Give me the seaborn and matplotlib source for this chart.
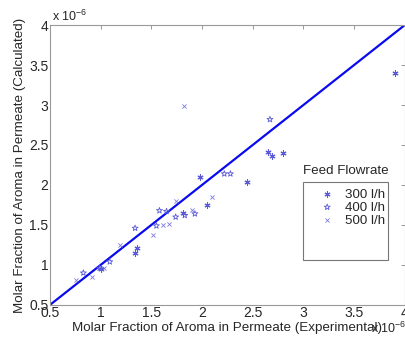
import matplotlib
matplotlib.use("Agg")
import matplotlib.pyplot as plt
from matplotlib.patches import Rectangle
from matplotlib.ticker import FuncFormatter
import seaborn as sns
import pandas as pd

# values in units of 1e-6
exp_300 = [1.00, 1.34, 1.36, 1.81, 1.98, 2.05, 2.44, 2.65, 2.69, 2.80, 3.90]
calc_300 = [0.95, 1.15, 1.21, 1.65, 2.10, 1.75, 2.04, 2.41, 2.36, 2.40, 3.40]
exp_400 = [0.83, 0.99, 1.09, 1.34, 1.55, 1.58, 1.65, 1.74, 1.83, 1.93, 2.22, 2.28, 2.67]
calc_400 = [0.90, 0.96, 1.04, 1.46, 1.49, 1.68, 1.67, 1.60, 1.62, 1.64, 2.14, 2.14, 2.82]
exp_500 = [0.76, 0.91, 1.03, 1.19, 1.52, 1.62, 1.67, 1.74, 1.82, 1.90, 2.10]
calc_500 = [0.81, 0.85, 0.96, 1.25, 1.38, 1.50, 1.51, 1.80, 2.99, 1.69, 1.85]
parity = [0.5, 4.0]
ticks = [0.5, 1, 1.5, 2, 2.5, 3, 3.5, 4]

df = pd.concat([
    pd.DataFrame({"exp": exp_300, "calc": calc_300, "flow": "300 l/h"}),
    pd.DataFrame({"exp": exp_400, "calc": calc_400, "flow": "400 l/h"}),
    pd.DataFrame({"exp": exp_500, "calc": calc_500, "flow": "500 l/h"}),
])

sns.set_style("white")
plt.rcParams["font.family"] = ["Liberation Sans", "DejaVu Sans"]
plt.rcParams["mathtext.fontset"] = "custom"
plt.rcParams["mathtext.rm"] = "Liberation Sans"

fig = plt.figure(figsize=(4.06, 3.43), dpi=100)
ax = fig.add_axes([0.123, 0.111, 0.874, 0.816])

mcol = "#5a5ad8"
styles = {
    "300 l/h": dict(marker=(6, 2, 0), s=14, color=mcol, linewidths=0.8),
    "400 l/h": dict(marker="*", s=20, facecolors="none", edgecolors=mcol, linewidths=0.6),
    "500 l/h": dict(marker="x", s=9, color=mcol, linewidths=0.6, alpha=0.8),
}
handles = []
for flow, st in styles.items():
    sub = df[df["flow"] == flow]
    h = ax.scatter(sub["exp"], sub["calc"], label=flow, zorder=3, **st)
    handles.append(h)

sns.lineplot(x=parity, y=parity, ax=ax, color="#0a0aee", linewidth=1.6, zorder=2)

ax.set_xlim(0.5, 4)
ax.set_ylim(0.5, 4)
ax.set_xticks(ticks)
ax.set_yticks(ticks)
fmt = FuncFormatter(lambda v, p: "%g" % v)
ax.xaxis.set_major_formatter(fmt)
ax.yaxis.set_major_formatter(fmt)
ax.tick_params(direction="in", length=3, width=0.6, color="#888888",
               top=True, right=True, labelsize=10, pad=1)
for sp in ax.spines.values():
    sp.set_color("#999999")
    sp.set_linewidth(0.8)

ax.set_xlabel("Molar Fraction of Aroma in Permeate (Experimental)", fontsize=9.6, labelpad=1)
ax.set_ylabel("Molar Fraction of Aroma in Permeate (Calculated)", fontsize=9.6, labelpad=2)

ax.text(0.005, 1.005, "x 10$^{-6}$", transform=ax.transAxes, fontsize=9,
        ha="left", va="bottom")
fig.text(1.0, 0.042, "x 10$^{-6}$", fontsize=9, ha="right", va="center")

# legend: title above the box, box drawn separately
leg = ax.legend(handles=handles, labels=list(styles.keys()), frameon=False,
                loc="upper left", bbox_to_anchor=(0.725, 0.45), fontsize=9.6,
                handletextpad=0.5, labelspacing=0.05, borderpad=0.2,
                handlelength=1.6)
ax.add_patch(Rectangle((0.713, 0.161), 0.239, 0.278, transform=ax.transAxes,
                       fill=False, edgecolor="#777777", linewidth=0.8, zorder=4))
ax.text(0.833, 0.458, "Feed Flowrate", transform=ax.transAxes, fontsize=9.6,
        ha="center", va="bottom")

fig.savefig("out.png", dpi=100)
